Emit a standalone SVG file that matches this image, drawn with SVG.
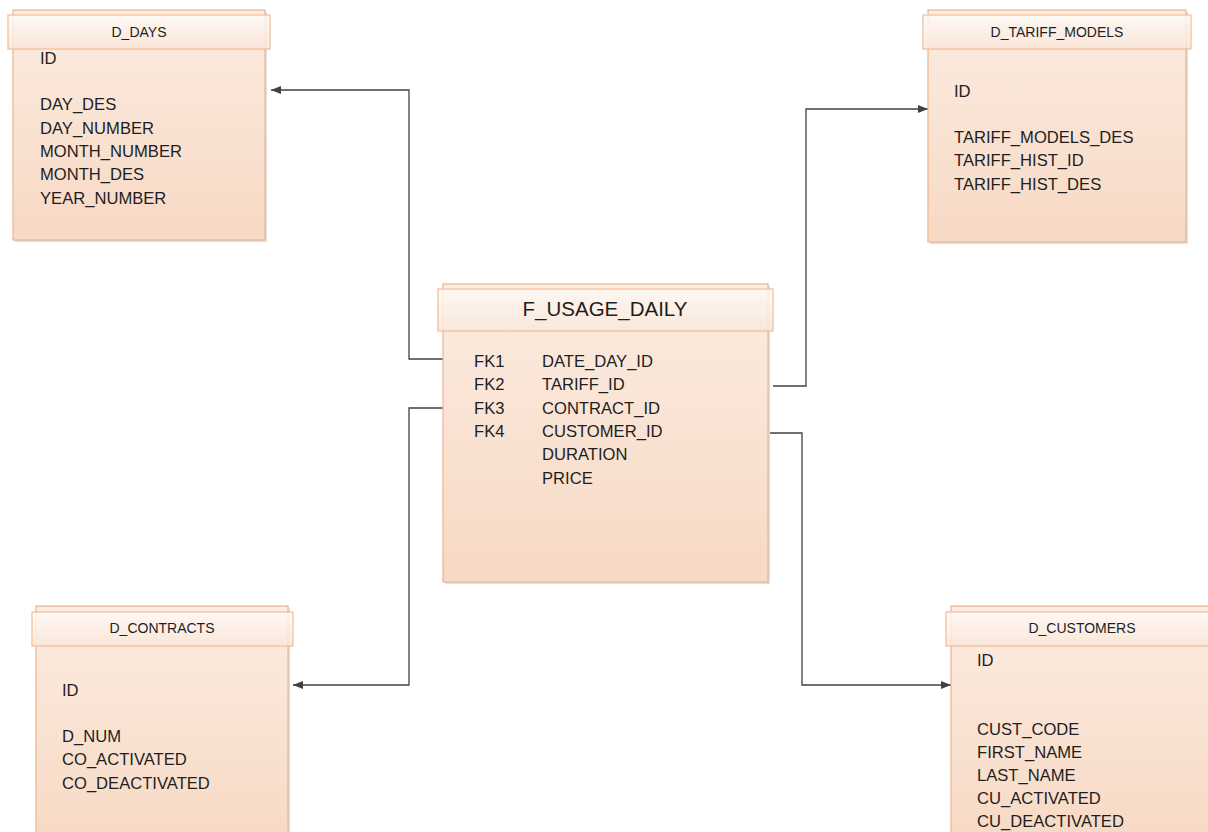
<svg xmlns="http://www.w3.org/2000/svg" width="1208" height="832" viewBox="0 0 1208 832">
<defs>
<linearGradient id="body" x1="0" y1="0" x2="0" y2="1">
<stop offset="0" stop-color="#fcece1"/>
<stop offset="1" stop-color="#f7d9c4"/>
</linearGradient>
<linearGradient id="head" x1="0" y1="0" x2="0" y2="1">
<stop offset="0" stop-color="#fefaf7"/>
<stop offset="1" stop-color="#fae6d8"/>
</linearGradient>
<marker id="arr" viewBox="0 0 10 10" refX="10" refY="5" markerWidth="10" markerHeight="10" markerUnits="userSpaceOnUse" orient="auto">
<path d="M0,1 L10,5 L0,9 z" fill="#404040"/>
</marker>
</defs>
<style>
.shadow{fill:#e0e0e0;}
.body{fill:url(#body);stroke:#ecb48e;stroke-width:1.2;}
.head{fill:url(#head);fill-opacity:0.85;stroke:#f0bc98;stroke-width:1.2;}
.t{font-family:"Liberation Sans",Arial,sans-serif;font-size:16.6px;fill:#1e1e1e;}
.h{font-family:"Liberation Sans",Arial,sans-serif;font-size:14px;fill:#1e1e1e;text-anchor:middle;}
.hb{font-family:"Liberation Sans",Arial,sans-serif;font-size:20.5px;fill:#1e1e1e;text-anchor:middle;}
.c{fill:none;stroke:#404040;stroke-width:1.3;}
</style>
<rect width="1208" height="832" fill="#ffffff"/>
<g id="connectors">
<path class="c" d="M443,359 H409 V90 H271" marker-end="url(#arr)"/>
<path class="c" d="M773,386 H806 V109 H928" marker-end="url(#arr)"/>
<path class="c" d="M443,408 H409 V685 H293" marker-end="url(#arr)"/>
<path class="c" d="M768,433 H802 V685 H951" marker-end="url(#arr)"/>
</g>
<g id="d_days">
<rect class="shadow" x="15" y="12" width="252" height="230"/>
<rect class="body" x="13" y="10" width="252" height="230"/>
<rect class="head" x="8" y="15" width="262" height="34"/>
<text class="h" x="139" y="37">D_DAYS</text>
<text class="t" x="40" y="64">ID</text>
<text class="t" x="40" y="110">DAY_DES</text>
<text class="t" x="40" y="134">DAY_NUMBER</text>
<text class="t" x="40" y="157">MONTH_NUMBER</text>
<text class="t" x="40" y="180">MONTH_DES</text>
<text class="t" x="40" y="204">YEAR_NUMBER</text>
</g>
<g id="d_tariff_models">
<rect class="shadow" x="930" y="12" width="258" height="232"/>
<rect class="body" x="928" y="10" width="258" height="232"/>
<rect class="head" x="923" y="15" width="268" height="34"/>
<text class="h" x="1057" y="37">D_TARIFF_MODELS</text>
<text class="t" x="954" y="97">ID</text>
<text class="t" x="954" y="143">TARIFF_MODELS_DES</text>
<text class="t" x="954" y="166">TARIFF_HIST_ID</text>
<text class="t" x="954" y="190">TARIFF_HIST_DES</text>
</g>
<g id="f_usage_daily">
<rect class="shadow" x="445" y="286" width="325" height="298"/>
<rect class="body" x="443" y="284" width="325" height="298"/>
<rect class="head" x="438" y="289" width="335" height="42"/>
<text class="hb" x="605" y="316">F_USAGE_DAILY</text>
<text class="t" x="474" y="367">FK1</text>
<text class="t" x="474" y="390">FK2</text>
<text class="t" x="474" y="414">FK3</text>
<text class="t" x="474" y="437">FK4</text>
<text class="t" x="542" y="367">DATE_DAY_ID</text>
<text class="t" x="542" y="390">TARIFF_ID</text>
<text class="t" x="542" y="414">CONTRACT_ID</text>
<text class="t" x="542" y="437">CUSTOMER_ID</text>
<text class="t" x="542" y="460">DURATION</text>
<text class="t" x="542" y="484">PRICE</text>
</g>
<g id="d_contracts">
<rect class="shadow" x="38" y="608" width="252" height="240"/>
<rect class="body" x="36" y="606" width="252" height="240"/>
<rect class="head" x="32" y="612" width="261" height="34"/>
<text class="h" x="162" y="633">D_CONTRACTS</text>
<text class="t" x="62" y="696">ID</text>
<text class="t" x="62" y="742">D_NUM</text>
<text class="t" x="62" y="765">CO_ACTIVATED</text>
<text class="t" x="62" y="789">CO_DEACTIVATED</text>
</g>
<g id="d_customers">
<rect class="shadow" x="953" y="608" width="270" height="240"/>
<rect class="body" x="951" y="606" width="270" height="240"/>
<rect class="head" x="946" y="612" width="280" height="34"/>
<text class="h" x="1082" y="633">D_CUSTOMERS</text>
<text class="t" x="977" y="666">ID</text>
<text class="t" x="977" y="735">CUST_CODE</text>
<text class="t" x="977" y="758">FIRST_NAME</text>
<text class="t" x="977" y="781">LAST_NAME</text>
<text class="t" x="977" y="804">CU_ACTIVATED</text>
<text class="t" x="977" y="827">CU_DEACTIVATED</text>
</g>
</svg>
